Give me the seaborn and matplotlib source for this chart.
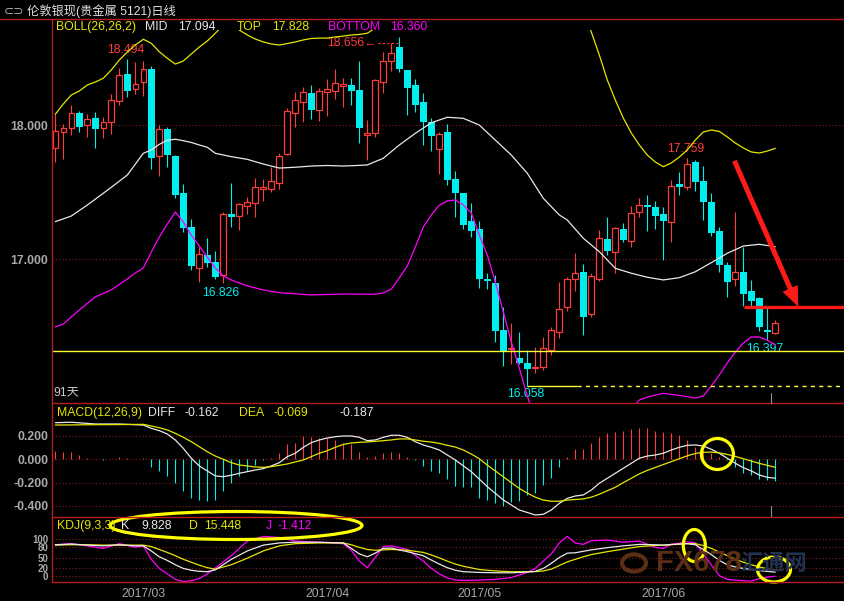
import numpy as np
import pandas as pd
import seaborn as sns
import matplotlib.pyplot as plt
from matplotlib.lines import Line2D
from matplotlib.patches import Ellipse, Circle

# daily candles, 91 days
opens = [17.828, 17.948, 17.982, 18.090, 18.000, 18.052, 17.978, 18.022, 18.179, 18.381,
         18.269, 18.325, 18.420, 17.773, 17.972, 17.771, 17.495, 17.243, 16.937, 17.032,
         16.982, 16.881, 17.338, 17.325, 17.400, 17.422, 17.527, 17.527, 17.572, 17.784,
         18.094, 18.176, 18.243, 18.114, 18.251, 18.258, 18.293, 18.301, 18.263, 17.931,
         17.940, 18.321, 18.482, 18.587, 18.413, 18.301, 18.176, 18.025, 17.821, 17.950,
         17.599, 17.495, 17.286, 17.226, 16.855, 16.821, 16.472, 16.327, 16.263, 16.228,
         16.187, 16.194, 16.323, 16.460, 16.646, 16.851, 16.905, 16.590, 16.851, 17.149,
         17.057, 17.224, 17.139, 17.351, 17.403, 17.388, 17.338, 17.281, 17.562, 17.542,
         17.724, 17.584, 17.428, 17.213, 16.957, 16.851, 16.905, 16.763, 16.709, 16.472,
         16.452]
highs = [18.082, 18.010, 18.151, 18.107, 18.082, 18.097, 18.064, 18.231, 18.425, 18.494,
         18.475, 18.480, 18.443, 18.002, 17.990, 17.778, 17.560, 17.301, 17.094, 17.157,
         17.064, 17.355, 17.567, 17.422, 17.463, 17.609, 17.597, 17.691, 17.791, 18.127,
         18.251, 18.288, 18.301, 18.276, 18.343, 18.420, 18.351, 18.351, 18.480, 18.040,
         18.343, 18.545, 18.612, 18.656, 18.413, 18.343, 18.243, 18.052, 17.952, 18.007,
         17.661, 17.497, 17.422, 17.288, 16.896, 16.883, 16.646, 16.527, 16.460, 16.323,
         16.348, 16.418, 16.497, 16.833, 16.870, 17.050, 16.965, 16.896, 17.219, 17.313,
         17.239, 17.269, 17.400, 17.455, 17.480, 17.435, 17.393, 17.592, 17.654, 17.759,
         17.741, 17.696, 17.497, 17.239, 16.982, 17.355, 17.094, 16.846, 16.721, 16.634,
         16.547]
lows = [17.728, 17.749, 17.928, 17.952, 17.915, 17.828, 17.907, 17.933, 18.151, 18.213,
        18.234, 18.221, 17.674, 17.624, 17.691, 17.455, 17.206, 16.920, 16.833, 16.945,
        16.851, 16.826, 17.239, 17.219, 17.338, 17.318, 17.437, 17.504, 17.527, 17.778,
        17.990, 18.027, 18.047, 18.034, 18.069, 18.196, 18.139, 18.151, 17.870, 17.741,
        17.910, 18.243, 18.407, 18.400, 18.077, 18.101, 17.853, 17.810, 17.637, 17.554,
        17.318, 17.226, 17.164, 16.784, 16.776, 16.385, 16.204, 16.222, 16.219, 16.058,
        16.149, 16.174, 16.286, 16.410, 16.617, 16.766, 16.435, 16.572, 16.840, 17.032,
        16.896, 17.131, 17.090, 17.318, 17.213, 17.226, 16.995, 17.131, 17.480, 17.517,
        17.512, 17.293, 17.174, 16.907, 16.721, 16.803, 16.654, 16.654, 16.467, 16.397,
        16.443]
closes = [17.957, 17.978, 18.090, 17.990, 18.045, 17.975, 18.027, 18.187, 18.375, 18.258,
          18.306, 18.420, 17.758, 17.970, 17.778, 17.480, 17.236, 16.952, 17.037, 16.970,
          16.870, 17.338, 17.318, 17.413, 17.425, 17.540, 17.540, 17.582, 17.771, 18.107,
          18.189, 18.246, 18.114, 18.256, 18.269, 18.313, 18.308, 18.258, 17.982, 17.939,
          18.338, 18.482, 18.537, 18.418, 18.281, 18.154, 18.027, 17.922, 17.935, 17.592,
          17.497, 17.258, 17.213, 16.855, 16.836, 16.465, 16.316, 16.335, 16.224, 16.184,
          16.199, 16.336, 16.472, 16.627, 16.853, 16.896, 16.572, 16.875, 17.157, 17.064,
          17.231, 17.144, 17.343, 17.403, 17.393, 17.325, 17.288, 17.547, 17.542, 17.711,
          17.579, 17.430, 17.199, 16.957, 16.833, 16.903, 16.741, 16.691, 16.497, 16.457,
          16.522]

# BOLL(26,26,2)
mid_idx = [0, 2, 4, 7, 9, 11, 12, 13, 14, 15, 16, 17, 18, 19, 20, 22, 24, 26, 28, 30, 32, 34, 36, 38, 39,
           41, 43, 45, 47, 49, 51, 53, 55, 57, 59, 61, 62, 63, 64, 66, 68, 70, 72, 74, 76, 78, 80, 82,
           84, 86, 88, 90]
mid_val = [17.281, 17.323, 17.405, 17.537, 17.629, 17.791, 17.816, 17.858, 17.888, 17.896, 17.885,
           17.872, 17.853, 17.836, 17.791, 17.766, 17.746, 17.711, 17.681, 17.687, 17.696, 17.700,
           17.696, 17.701, 17.704, 17.754, 17.853, 17.940, 18.019, 18.060, 18.052, 18.002, 17.890,
           17.778, 17.642, 17.455, 17.393, 17.331, 17.293, 17.157, 17.057, 16.933, 16.896, 16.866,
           16.846, 16.863, 16.907, 16.975, 17.045, 17.099, 17.112, 17.094]
top_idx = list(range(0, 41)) + [41, 43, 45, 47, 49, 51, 53, 55, 57, 59, 61, 63, 65, 66] + list(range(67, 91))
top_val = [18.082, 18.159, 18.226, 18.256, 18.301, 18.323, 18.351, 18.413, 18.487, 18.547,
           18.599, 18.642, 18.612, 18.549, 18.500, 18.457, 18.480, 18.532, 18.584, 18.629,
           18.687, 18.749, 18.771, 18.711, 18.674, 18.644, 18.622, 18.607, 18.599, 18.610,
           18.622, 18.637, 18.648, 18.651, 18.651, 18.659, 18.666, 18.674, 18.678, 18.687,
           18.726,
           18.76, 18.845, 18.79, 18.72, 18.72, 18.73, 18.83, 18.95, 19.17, 19.30, 19.30, 19.2, 19.0, 18.85,
           18.696, 18.525, 18.338, 18.189, 18.054, 17.943, 17.853, 17.778, 17.726, 17.691,
           17.719, 17.763, 17.816, 17.890, 17.950, 17.965, 17.954, 17.913, 17.868, 17.831,
           17.801, 17.793, 17.808, 17.828]
bot_idx = [0, 1, 3, 5, 7, 9, 10, 11, 12, 13, 14, 15, 16, 17, 18, 19, 20, 21, 22, 24, 26, 28, 32, 36, 40,
           41, 42, 43, 44, 45, 46, 47, 48, 49, 50, 51, 52, 53, 54, 55, 56, 57, 58, 59, 60, 61, 62, 63,
           64, 65, 66, 67, 68, 69, 70, 71, 72, 73, 74, 76, 78, 80, 81, 82, 83, 84, 85, 86, 87, 88, 89, 90]
bot_val = [16.495, 16.517, 16.622, 16.719, 16.772, 16.853, 16.898, 16.935, 17.054, 17.166, 17.263,
           17.353, 17.278, 17.180, 17.099, 17.017, 16.935, 16.875, 16.846, 16.801, 16.771, 16.751,
           16.734, 16.741, 16.739, 16.749, 16.778, 16.861, 16.950, 17.092, 17.241, 17.331, 17.405,
           17.435, 17.443, 17.405, 17.346, 17.181, 17.032, 16.831, 16.607, 16.383, 16.189, 15.980,
           15.800, 15.65, 15.54, 15.47, 15.43, 15.43, 15.45, 15.50, 15.58, 15.65, 15.74, 15.81, 15.88,
           15.950, 15.972, 16.000, 15.984, 15.965, 15.980, 16.055, 16.137, 16.226, 16.308, 16.375,
           16.420, 16.420, 16.397, 16.360]

# MACD(12,26,9)
macd_bar = [0.072, 0.066, 0.066, 0.037, 0.014, 0.006, -0.003, 0.004, 0.020, 0.009,
            0.006, 0.014, -0.063, -0.100, -0.140, -0.200, -0.269, -0.329, -0.349, -0.355,
            -0.349, -0.269, -0.206, -0.140, -0.100, -0.049, -0.006, 0.009, 0.057, 0.132,
            0.143, 0.200, 0.195, 0.183, 0.180, 0.166, 0.143, 0.132, 0.063, 0.023,
            0.029, 0.057, 0.063, 0.057, 0.017, -0.006, -0.055, -0.100, -0.114, -0.165,
            -0.230, -0.235, -0.240, -0.329, -0.349, -0.378, -0.400, -0.363, -0.358, -0.306,
            -0.292, -0.220, -0.163, -0.063, 0.023, 0.086, 0.086, 0.137, 0.195, 0.223,
            0.237, 0.246, 0.258, 0.266, 0.266, 0.246, 0.237, 0.223, 0.209, 0.166,
            0.109, 0.080, 0.051, 0.023, -0.006, -0.063, -0.114, -0.134, -0.172, -0.177,
            -0.187]
diff_idx = [0, 2, 5, 8, 11] + list(range(12, 51)) + [52, 54, 56, 58] + list(range(60, 91))
diff_val = [0.314, 0.318, 0.303, 0.303, 0.294,
            0.266, 0.246, 0.217, 0.166, 0.094, 0.009, -0.057, -0.100, -0.143, -0.149,
            -0.137, -0.120, -0.106, -0.092, -0.080, -0.057, -0.029, 0.023, 0.052, 0.103,
            0.143, 0.166, 0.183, 0.194, 0.200, 0.200, 0.189, 0.160, 0.166, 0.189,
            0.206, 0.206, 0.189, 0.151, 0.123, 0.103, 0.080, 0.037, -0.006,
            -0.106, -0.235, -0.349, -0.435,
            -0.478, -0.472, -0.435, -0.378, -0.335, -0.315, -0.306, -0.264, -0.206, -0.163,
            -0.120, -0.077, -0.034, 0.009, 0.028, 0.037, 0.052, 0.080, 0.103, 0.120,
            0.123, 0.114, 0.086, 0.052, 0.009, -0.034, -0.072, -0.100, -0.135, -0.155,
            -0.162]
dea_idx = [0, 5, 8] + list(range(11, 91))
dea_val = [0.294, 0.297, 0.298,
           0.300, 0.286, 0.271, 0.252, 0.223, 0.189, 0.151, 0.108, 0.065, 0.028,
           0.000, -0.029, -0.049, -0.057, -0.066, -0.069, -0.063, -0.052, -0.040, -0.023,
           -0.006, 0.023, 0.052, 0.074, 0.103, 0.128, 0.140, 0.146, 0.149, 0.154,
           0.160, 0.166, 0.175, 0.175, 0.166, 0.155, 0.148, 0.137, 0.120, 0.105,
           0.080, 0.045, 0.005, -0.050, -0.100, -0.150, -0.200, -0.250, -0.290, -0.325,
           -0.350, -0.360, -0.360, -0.350, -0.345, -0.340, -0.325, -0.300, -0.270, -0.240,
           -0.200, -0.163, -0.125, -0.095, -0.070, -0.045, -0.020, 0.005, 0.030, 0.050,
           0.060, 0.062, 0.055, 0.042, 0.025, 0.005, -0.015, -0.035, -0.052, -0.069]

# KDJ(9,3,3)
kdj_idx = [0, 2, 4, 6, 8, 10, 11, 12, 13, 14, 15, 16, 17, 18, 19, 20, 22, 24, 26, 28, 30, 33, 36,
           37, 38, 39, 40, 41, 42, 44, 46, 47, 48, 49, 50, 51, 53, 55, 57, 59, 60, 61, 62, 63, 64,
           65, 66, 67, 69, 71, 73, 75, 76, 77, 79, 80, 81, 82, 83, 84, 85, 86, 87, 88, 89, 90]
k_val = [85, 87, 84, 82, 85, 82, 82, 68, 52, 42, 30, 20, 15, 12, 11, 16, 45, 68, 84, 90, 92, 92, 90,
         75, 60, 52, 62, 75, 76, 66, 55, 43, 32, 22, 15, 11, 9, 8, 8, 10, 12, 20, 34, 50, 62,
         63, 67, 71, 77, 82, 86, 85, 84, 86, 88, 85, 72, 58, 42, 30, 24, 20, 17, 14, 12, 9.828]
d_val = [84, 85, 85, 84, 84, 84, 84, 80, 72, 64, 55, 45, 37, 29, 22, 18, 30, 48, 68, 82, 88, 90, 90,
         85, 78, 72, 70, 71, 72, 70, 64, 57, 49, 40, 32, 26, 17, 13, 11, 11, 11, 13, 18, 28, 38,
         45, 52, 58, 66, 73, 80, 83, 84, 85, 88, 88, 83, 75, 65, 55, 45, 37, 30, 24, 19, 15.448]
j_val = [85, 88, 82, 75, 88, 78, 82, 45, 20, 5, -10, -16, -14, -8, 5, 21, 55, 95, 108, 105, 95, 92, 88,
         70, 40, 22, 50, 80, 82, 72, 40, 20, 5, -6, -12, -13, -12, -10, -5, 9, 20, 40, 60, 90, 108,
         90, 86, 96, 98, 92, 95, 78, 75, 86, 93, 90, 60, 30, 0, -10, -12, -14, -15, -8, -4, -1.412]

month_idx = [11, 34, 53, 76]
month_lab = ['2017/03', '2017/04', '2017/05', '2017/06']

support = 16.316
low_line = 16.058
resist = 16.646

sns.set_theme(style='dark', rc={'axes.facecolor': 'black', 'figure.facecolor': 'black'})
plt.rcParams['font.family'] = ['Liberation Sans', 'Noto Sans CJK SC', 'DejaVu Sans']
plt.rcParams['axes.unicode_minus'] = False

W, H = 844, 601
RED = '#ff3c3c'
CYAN = '#00eeee'
YEL = '#e6e600'
MAG = '#ff00ff'
WHT = '#e8e8e8'
GRID = '#8c1c1c'
FRAME = '#b41e1e'
GRAY = '#a8a8a8'
FS = 8.8


def fx(x):
    return x / W


def fy(y):
    return 1 - y / H


fig = plt.figure(figsize=(W / 100, H / 100), dpi=100)
left = 51.7
ax = fig.add_axes([fx(left), fy(403.3), 1 - fx(left), (403.3 - 30) / H])
ax_m = fig.add_axes([fx(left), fy(516.7), 1 - fx(left), (516.7 - 403.3) / H])
ax_k = fig.add_axes([fx(left), fy(581.7), 1 - fx(left), (581.7 - 516.7) / H])

x0, x1 = (left - 55.3) / 8, (W - 55.3) / 8
for a in (ax, ax_m, ax_k):
    a.set_facecolor('black')
    a.set_xlim(x0, x1)
    for s in a.spines.values():
        s.set_visible(False)
    a.tick_params(axis='both', length=0, colors=GRAY, labelsize=FS, pad=2.5)
    a.grid(False)

ax.set_ylim(18 - (403.3 - 125.3) / 134, 18 + (125.3 - 30) / 134)
ax_m.set_ylim((459.3 - 516.7) / 116.5, (459.3 - 403.3) / 116.5)
ax_k.set_ylim((575.7 - 581.7) / 0.364, (575.7 - 516.7) / 0.364)

# candles
df = pd.DataFrame({'o': opens, 'h': highs, 'l': lows, 'c': closes})
df['i'] = np.arange(len(df))
df['up'] = df['c'] >= df['o']
df['body'] = np.maximum((df['c'] - df['o']).abs(), 0.006)
df['base'] = df[['o', 'c']].min(axis=1)
up = df[df['up']]
dn = df[~df['up']]
ax.vlines(up['i'], up['l'], up['h'], color=RED, lw=0.8, zorder=2)
ax.vlines(dn['i'], dn['l'], dn['h'], color=CYAN, lw=0.8, zorder=2)
ax.bar(up['i'], up['body'], bottom=up['base'], width=0.7, facecolor='black', edgecolor=RED,
       lw=0.9, zorder=3)
ax.bar(dn['i'], dn['body'], bottom=dn['base'], width=0.82, color=CYAN, lw=0, zorder=3)

sns.lineplot(x=mid_idx, y=mid_val, ax=ax, color=WHT, lw=0.9, zorder=4)
sns.lineplot(x=top_idx, y=top_val, ax=ax, color=YEL, lw=0.9, zorder=4)
sns.lineplot(x=bot_idx, y=bot_val, ax=ax, color=MAG, lw=0.9, zorder=4)

ax.set_yticks([17, 18], labels=['17.000', '18.000'], fontweight='bold')
ax.set_xticks([])
for v in (17, 18):
    ax.axhline(v, color=GRID, ls=(0, (1, 2)), lw=0.8, zorder=1)

ax.axhline(support, color='#ffff33', lw=1.0, zorder=5)
ax.hlines(low_line, 59, 65.2, color='#ffff33', lw=1.0, zorder=5)
ax.hlines(low_line, 65.2, x1, color='#ffff33', lw=1.0, ls=(0, (3, 3)), zorder=5)
ax.hlines(resist, 86.1, x1, color='#ff1a1a', lw=2.4, zorder=6)
ax.annotate('', xy=(93.0, 16.627), xytext=(84.75, 17.754),
            arrowprops=dict(arrowstyle='simple,head_width=1.0,head_length=1.2,tail_width=0.3',
                            color='#ff1a1a', lw=0, mutation_scale=12), zorder=7)


# price labels
def mark(i, v, txt, color, dx, dy):
    ax.annotate(txt, xy=(i, v), xytext=(dx * 0.72, dy * 0.72), textcoords='offset points',
                ha='center', va='center', color=color, fontsize=FS)


mark(9, highs[9], '18.494', RED, -1.8, 9)
mark(79, highs[79], '17.759', RED, -1.3, 8.3)
mark(21, lows[21], '16.826', CYAN, -2.3, -10.4)
mark(59, lows[59], '16.058', CYAN, -1.3, -8.8)
mark(89, lows[89], '16.397', CYAN, -2.3, -9.2)
peak = int(np.argmax(highs))
ax.annotate('18.656\u2190', xy=(peak, highs[peak]), xytext=(-22.6 * 0.72, -5.9 * 0.72),
            textcoords='offset points', ha='right', va='center', color=RED, fontsize=FS)
ax.hlines(highs[peak] - 5.9 / 134, peak - 21 / 8, peak - 0.2, color=RED, lw=0.8, ls=(0, (2, 2)))
ax.text(0.002, 0.028, '91天', transform=ax.transAxes, color='#c8c8c8', fontsize=FS, va='center')

# MACD
mb = pd.DataFrame({'i': np.arange(len(macd_bar)), 'v': macd_bar})
pos = mb[mb['v'] >= 0]
neg = mb[mb['v'] < 0]
ax_m.vlines(pos['i'], 0, pos['v'], color=RED, lw=0.8)
ax_m.vlines(neg['i'], 0, neg['v'], color=CYAN, lw=0.8)
sns.lineplot(x=diff_idx, y=diff_val, ax=ax_m, color=WHT, lw=0.9)
sns.lineplot(x=dea_idx, y=dea_val, ax=ax_m, color=YEL, lw=0.9)
mt = [-0.4, -0.2, 0.0, 0.2]
ax_m.set_yticks(mt, labels=['-0.400', '-0.200', '0.000', '0.200'], fontweight='bold')
ax_m.set_xticks([])
for v in mt:
    ax_m.axhline(v, color=GRID, ls=(0, (1, 2)), lw=0.8, zorder=0)

# KDJ
fig.text(fx(742), fy(563), 'FX678', color='#5c2e16', fontsize=21, fontweight='bold',
         ha='right', va='center')
fig.text(fx(740), fy(563), '汇通网', color='#22324f', fontsize=16, fontweight='bold',
         ha='left', va='center', family=['Noto Sans CJK SC'])
fig.add_artist(Circle((fx(634), fy(563)), 12 / W, transform=fig.transFigure, fill=False,
                      ec='#5c2e16', lw=3))
kt = [0, 20, 50, 80, 100]
for v in kt:
    ax_k.axhline(v, color=GRID, ls=(0, (1, 2)), lw=0.8, zorder=0)
sns.lineplot(x=kdj_idx, y=j_val, ax=ax_k, color=MAG, lw=0.9)
sns.lineplot(x=kdj_idx, y=d_val, ax=ax_k, color=YEL, lw=0.9)
sns.lineplot(x=kdj_idx, y=k_val, ax=ax_k, color=WHT, lw=0.9)
ax_k.set_yticks(kt, labels=[str(v) for v in kt], fontweight='bold', fontsize=7)
ax_k.set_xticks(month_idx, labels=month_lab)
ax_k.tick_params(axis='x', pad=4.5)
for a in (ax, ax_m, ax_k):
    a.set_xlabel('')
    a.set_ylabel('')


# frames
def fline(xa, ya, xb, yb, color=FRAME, lw=1.0):
    fig.add_artist(Line2D([fx(xa), fx(xb)], [fy(ya), fy(yb)], color=color, lw=lw))


fline(0, 19.3, W, 19.3)
fline(left, 19.3, left, 581.7)
for yy in (403.3, 516.7, 581.7):
    fline(left, yy, W, yy)
fline(771, 393, 771, 403, color='#909090', lw=0.8)
fline(771, 506, 771, 516, color='#909090', lw=0.8)


# header texts
def put(x, y, s, color, **kw):
    fig.text(fx(x), fy(y), s, color=color, fontsize=FS, ha='left', va='center', **kw)


put(4, 11.5, '\u2282\u2283', '#b0b0b0', family=['DejaVu Sans'])
put(27, 11.5, '伦敦银现(贵金属 5121)日线', '#e0e0e0')
for x, s, c in [(56, 'BOLL(26,26,2)', YEL), (145, 'MID', WHT), (178.3, '17.094', WHT),
                (236.7, 'TOP', YEL), (271.7, '17.828', YEL), (328.3, 'BOTTOM', MAG),
                (390, '16.360', MAG)]:
    put(x, 26.7, s, c)
for x, s, c in [(56.5, 'MACD(12,26,9)', YEL), (148, 'DIFF', WHT), (184.6, '-0.162', WHT),
                (239.5, 'DEA', YEL), (273, '-0.069', YEL), (340, '-0.187', WHT)]:
    put(x, 413, s, c)
for x, s, c in [(56.5, 'KDJ(9,3,3)', YEL), (121, 'K', WHT), (141, '9.828', WHT),
                (189, 'D', YEL), (204.5, '15.448', YEL), (266, 'J', MAG), (277, '-1.412', MAG)]:
    put(x, 526, s, c)

# hand-drawn highlight rings
for cx, cy, w, h in [(236, 525.5, 252, 28), (717.4, 454, 32, 31), (694.3, 545.5, 22, 32),
                     (774, 569.5, 33, 25)]:
    fig.add_artist(Ellipse((fx(cx), fy(cy)), w / W, h / H, transform=fig.transFigure,
                           fill=False, ec='#ffff00', lw=2.3))

fig.savefig('out.png', dpi=100, facecolor='black')
